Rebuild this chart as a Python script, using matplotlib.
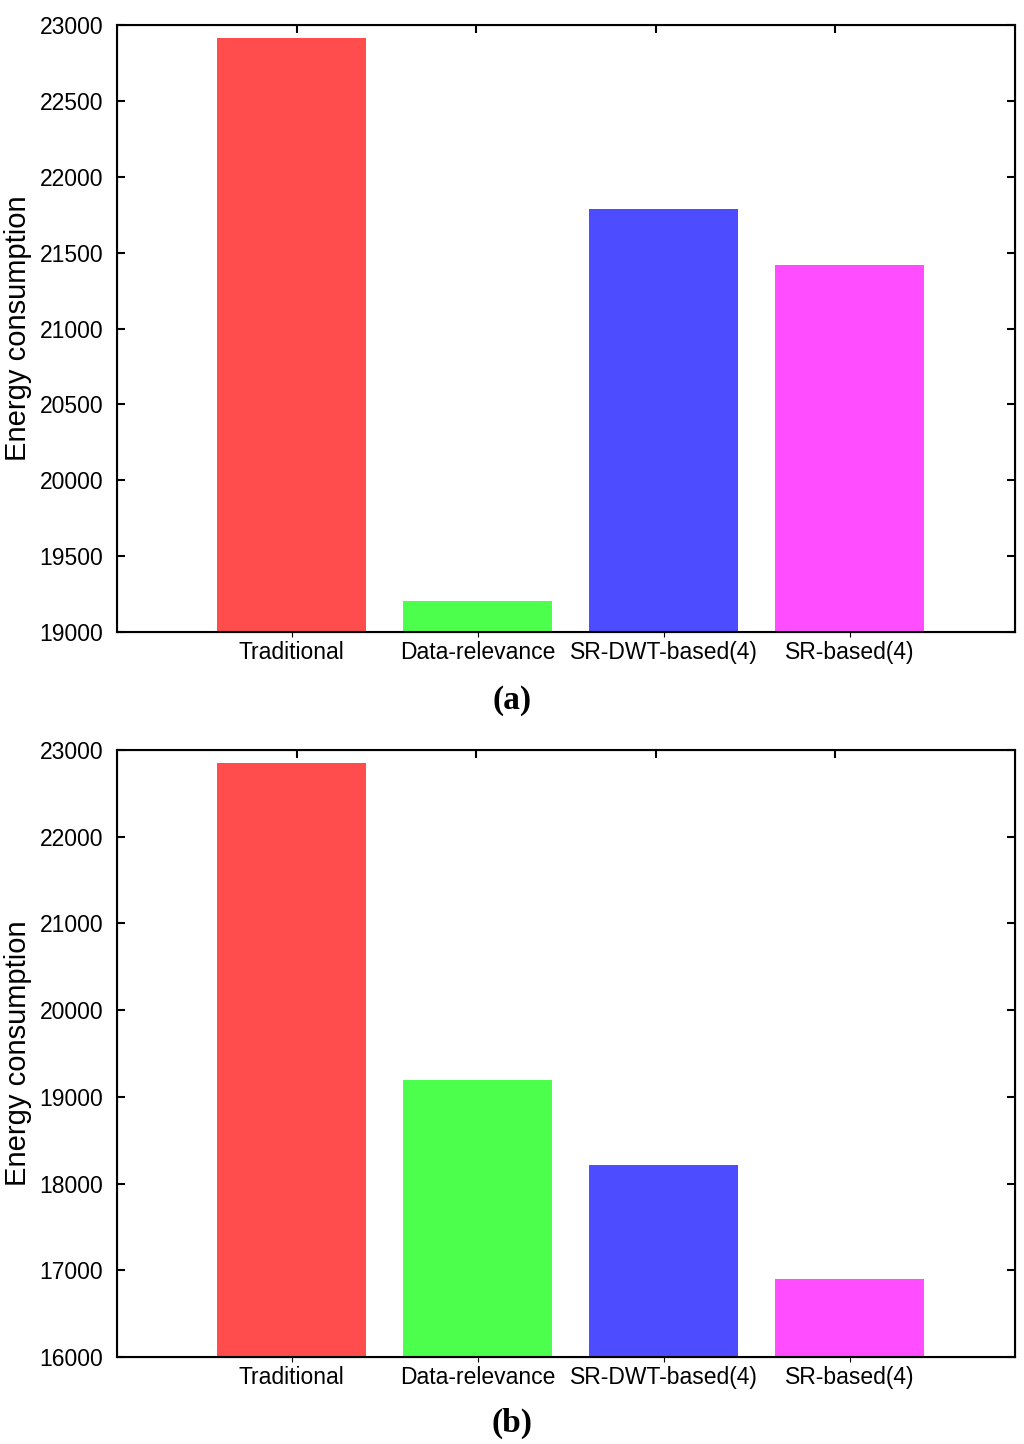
import numpy as np
import matplotlib.pyplot as plt

# data
methods = ['Traditional', 'Data-relevance', 'SR-DWT-based(4)', 'SR-based(4)']
energy_a = [22915, 19205, 21790, 21420]
energy_b = [22850, 19195, 18215, 16900]
colors = ['#ff4d4d', '#4dff4d', '#4d4dff', '#ff4dff']

yticks_a = np.arange(19000, 23001, 500)
yticks_b = np.arange(16000, 23001, 1000)

plt.rcParams['font.family'] = ['Liberation Sans', 'DejaVu Sans']

fig = plt.figure(figsize=(10.24, 14.44), dpi=100)
ax_a = fig.add_axes([0.1143, 0.5623, 0.8770, 0.4204])
ax_b = fig.add_axes([0.1143, 0.0602, 0.8770, 0.4204])

x = np.arange(len(methods))

def draw(ax, values, yticks, tag, tag_y):
    ax.bar(x, values, width=0.8, color=colors, edgecolor='none')
    ax.set_xlim(-0.94, 3.89)
    ax.set_ylim(yticks[0], yticks[-1])
    ax.set_yticks(yticks)
    ax.set_xticks(x)
    ax.set_xticklabels(methods, fontsize=16.5)
    ax.tick_params(axis='x', top=False, bottom=False, pad=3)
    ax.tick_params(axis='y', left=True, right=True, direction='in',
                   length=6, width=1.5, labelsize=16.5, pad=10)
    for s in ax.spines.values():
        s.set_linewidth(1.5)
    ax.set_ylabel('Energy consumption', fontsize=21, labelpad=5)

    # tick marks along the top edge only
    top = ax.twiny()
    top.set_xlim(-1, 4)
    top.set_xticks(x)
    top.tick_params(axis='x', direction='in', length=6, width=1.5,
                    top=True, bottom=False, labeltop=False, labelbottom=False)

    fig.text(0.5, tag_y, tag, ha='center', va='center', fontsize=24,
             fontweight='bold', family='Liberation Serif')

draw(ax_a, energy_a, yticks_a, '(a)', 0.515)
draw(ax_b, energy_b, yticks_b, '(b)', 0.014)

fig.savefig('out.png', dpi=100)
